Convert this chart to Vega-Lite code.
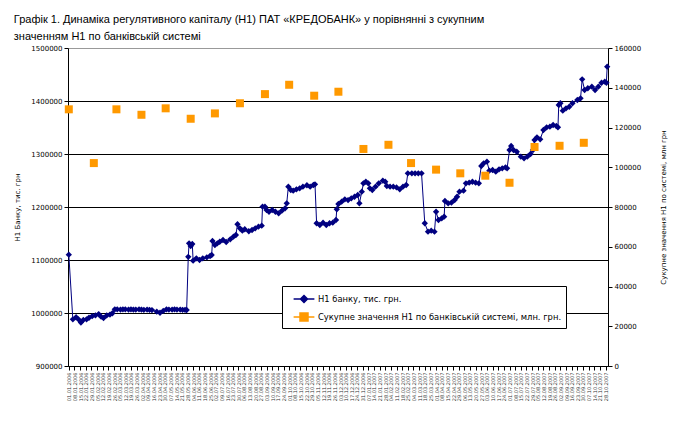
{
  "$schema": "https://vega.github.io/schema/vega-lite/v6.json",
  "width": 540,
  "height": 318,
  "autosize": {"type": "none"},
  "padding": {"left": 68, "top": 48, "right": 72, "bottom": 69},
  "background": "white",
  "title": {
    "text": ["Графік 1. Динаміка регулятивного капіталу (Н1) ПАТ «КРЕДОБАНК»  у порівнянні з сукупним", "значенням Н1 по банківській системі"],
    "anchor": "start",
    "frame": "bounds",
    "font": "Liberation Sans",
    "fontSize": 11,
    "fontWeight": "normal",
    "color": "black",
    "lineHeight": 17,
    "offset": 2
  },
  "config": {
    "view": {"stroke": null},
    "axis": {"labelFont": "DejaVu Sans", "labelColor": "black", "titleFont": "DejaVu Sans", "titleColor": "black", "titleFontWeight": "normal", "domainColor": "black", "tickColor": "black"}
  },
  "datasets": {
    "bank": [
      {"date": "2006-01-01", "value": 1110000},
      {"date": "2006-01-06", "value": 988000},
      {"date": "2006-01-10", "value": 992000},
      {"date": "2006-01-13", "value": 988000},
      {"date": "2006-01-16", "value": 982000},
      {"date": "2006-01-19", "value": 987000},
      {"date": "2006-01-23", "value": 988000},
      {"date": "2006-01-26", "value": 991000},
      {"date": "2006-01-30", "value": 994000},
      {"date": "2006-02-03", "value": 995500},
      {"date": "2006-02-07", "value": 998000},
      {"date": "2006-02-10", "value": 993000},
      {"date": "2006-02-13", "value": 990500},
      {"date": "2006-02-17", "value": 995500},
      {"date": "2006-02-21", "value": 997000},
      {"date": "2006-02-24", "value": 999500},
      {"date": "2006-02-27", "value": 1007000},
      {"date": "2006-03-02", "value": 1007000},
      {"date": "2006-03-06", "value": 1006500},
      {"date": "2006-03-09", "value": 1007000},
      {"date": "2006-03-12", "value": 1007000},
      {"date": "2006-03-16", "value": 1006500},
      {"date": "2006-03-19", "value": 1007000},
      {"date": "2006-03-22", "value": 1006500},
      {"date": "2006-03-25", "value": 1006500},
      {"date": "2006-03-29", "value": 1007000},
      {"date": "2006-04-01", "value": 1006500},
      {"date": "2006-04-04", "value": 1006000},
      {"date": "2006-04-08", "value": 1006500},
      {"date": "2006-04-11", "value": 1006000},
      {"date": "2006-04-14", "value": 1005500},
      {"date": "2006-04-20", "value": 1002500},
      {"date": "2006-04-24", "value": 1000500},
      {"date": "2006-04-28", "value": 1004000},
      {"date": "2006-05-02", "value": 1007000},
      {"date": "2006-05-05", "value": 1006500},
      {"date": "2006-05-09", "value": 1006500},
      {"date": "2006-05-12", "value": 1007000},
      {"date": "2006-05-15", "value": 1006500},
      {"date": "2006-05-19", "value": 1006500},
      {"date": "2006-05-22", "value": 1006000},
      {"date": "2006-05-25", "value": 1006000},
      {"date": "2006-05-27", "value": 1005700},
      {"date": "2006-05-29", "value": 1106000},
      {"date": "2006-05-30", "value": 1131500},
      {"date": "2006-06-01", "value": 1126400},
      {"date": "2006-06-03", "value": 1130200},
      {"date": "2006-06-04", "value": 1098700},
      {"date": "2006-06-08", "value": 1103200},
      {"date": "2006-06-12", "value": 1100000},
      {"date": "2006-06-16", "value": 1103200},
      {"date": "2006-06-21", "value": 1105100},
      {"date": "2006-06-25", "value": 1107500},
      {"date": "2006-06-27", "value": 1109400},
      {"date": "2006-06-28", "value": 1135900},
      {"date": "2006-07-01", "value": 1128300},
      {"date": "2006-07-04", "value": 1131500},
      {"date": "2006-07-07", "value": 1134500},
      {"date": "2006-07-11", "value": 1137700},
      {"date": "2006-07-15", "value": 1134000},
      {"date": "2006-07-20", "value": 1139000},
      {"date": "2006-07-24", "value": 1144000},
      {"date": "2006-07-27", "value": 1147200},
      {"date": "2006-07-29", "value": 1167400},
      {"date": "2006-08-01", "value": 1159800},
      {"date": "2006-08-04", "value": 1155300},
      {"date": "2006-08-07", "value": 1158000},
      {"date": "2006-08-12", "value": 1154200},
      {"date": "2006-08-16", "value": 1156600},
      {"date": "2006-08-20", "value": 1159800},
      {"date": "2006-08-24", "value": 1162900},
      {"date": "2006-08-28", "value": 1164700},
      {"date": "2006-08-29", "value": 1200600},
      {"date": "2006-09-01", "value": 1200600},
      {"date": "2006-09-03", "value": 1194300},
      {"date": "2006-09-06", "value": 1191100},
      {"date": "2006-09-10", "value": 1194300},
      {"date": "2006-09-14", "value": 1191100},
      {"date": "2006-09-18", "value": 1188100},
      {"date": "2006-09-22", "value": 1193000},
      {"date": "2006-09-26", "value": 1197500},
      {"date": "2006-09-28", "value": 1207000},
      {"date": "2006-09-30", "value": 1238300},
      {"date": "2006-10-03", "value": 1232100},
      {"date": "2006-10-06", "value": 1230800},
      {"date": "2006-10-10", "value": 1233400},
      {"date": "2006-10-14", "value": 1235300},
      {"date": "2006-10-18", "value": 1238300},
      {"date": "2006-10-23", "value": 1241000},
      {"date": "2006-10-27", "value": 1238300},
      {"date": "2006-10-31", "value": 1241500},
      {"date": "2006-11-02", "value": 1242800},
      {"date": "2006-11-04", "value": 1169300},
      {"date": "2006-11-08", "value": 1166000},
      {"date": "2006-11-12", "value": 1170400},
      {"date": "2006-11-16", "value": 1166000},
      {"date": "2006-11-20", "value": 1169300},
      {"date": "2006-11-24", "value": 1170400},
      {"date": "2006-11-28", "value": 1175500},
      {"date": "2006-11-29", "value": 1195700},
      {"date": "2006-12-01", "value": 1205700},
      {"date": "2006-12-05", "value": 1210000},
      {"date": "2006-12-09", "value": 1214500},
      {"date": "2006-12-13", "value": 1213000},
      {"date": "2006-12-17", "value": 1216400},
      {"date": "2006-12-21", "value": 1219400},
      {"date": "2006-12-25", "value": 1222700},
      {"date": "2006-12-27", "value": 1207000},
      {"date": "2006-12-30", "value": 1228900},
      {"date": "2007-01-01", "value": 1244700},
      {"date": "2007-01-04", "value": 1247700},
      {"date": "2007-01-07", "value": 1244700},
      {"date": "2007-01-09", "value": 1235300},
      {"date": "2007-01-12", "value": 1232100},
      {"date": "2007-01-16", "value": 1238300},
      {"date": "2007-01-20", "value": 1244700},
      {"date": "2007-01-25", "value": 1249600},
      {"date": "2007-01-28", "value": 1247700},
      {"date": "2007-01-30", "value": 1239600},
      {"date": "2007-02-03", "value": 1238300},
      {"date": "2007-02-07", "value": 1238300},
      {"date": "2007-02-11", "value": 1237000},
      {"date": "2007-02-15", "value": 1233400},
      {"date": "2007-02-19", "value": 1238300},
      {"date": "2007-02-23", "value": 1241500},
      {"date": "2007-02-25", "value": 1263600},
      {"date": "2007-03-02", "value": 1263600},
      {"date": "2007-03-06", "value": 1263600},
      {"date": "2007-03-10", "value": 1263600},
      {"date": "2007-03-14", "value": 1263600},
      {"date": "2007-03-18", "value": 1169300},
      {"date": "2007-03-22", "value": 1153400},
      {"date": "2007-03-26", "value": 1155300},
      {"date": "2007-03-30", "value": 1153400},
      {"date": "2007-04-01", "value": 1191100},
      {"date": "2007-04-04", "value": 1175500},
      {"date": "2007-04-08", "value": 1178700},
      {"date": "2007-04-11", "value": 1181700},
      {"date": "2007-04-12", "value": 1211300},
      {"date": "2007-04-16", "value": 1207000},
      {"date": "2007-04-20", "value": 1208100},
      {"date": "2007-04-24", "value": 1213200},
      {"date": "2007-04-27", "value": 1219400},
      {"date": "2007-04-30", "value": 1228900},
      {"date": "2007-05-05", "value": 1230800},
      {"date": "2007-05-08", "value": 1244700},
      {"date": "2007-05-12", "value": 1245900},
      {"date": "2007-05-16", "value": 1247700},
      {"date": "2007-05-20", "value": 1245900},
      {"date": "2007-05-24", "value": 1244700},
      {"date": "2007-05-27", "value": 1277400},
      {"date": "2007-05-30", "value": 1282400},
      {"date": "2007-06-03", "value": 1285500},
      {"date": "2007-06-06", "value": 1268500},
      {"date": "2007-06-10", "value": 1269800},
      {"date": "2007-06-14", "value": 1266600},
      {"date": "2007-06-18", "value": 1271000},
      {"date": "2007-06-22", "value": 1273000},
      {"date": "2007-06-26", "value": 1274900},
      {"date": "2007-06-28", "value": 1273000},
      {"date": "2007-07-01", "value": 1307500},
      {"date": "2007-07-03", "value": 1315100},
      {"date": "2007-07-06", "value": 1307500},
      {"date": "2007-07-10", "value": 1304300},
      {"date": "2007-07-15", "value": 1294900},
      {"date": "2007-07-19", "value": 1291800},
      {"date": "2007-07-23", "value": 1294900},
      {"date": "2007-07-27", "value": 1300000},
      {"date": "2007-07-30", "value": 1307500},
      {"date": "2007-08-01", "value": 1326400},
      {"date": "2007-08-04", "value": 1331500},
      {"date": "2007-08-08", "value": 1327600},
      {"date": "2007-08-12", "value": 1345300},
      {"date": "2007-08-16", "value": 1350400},
      {"date": "2007-08-20", "value": 1351500},
      {"date": "2007-08-24", "value": 1354700},
      {"date": "2007-08-28", "value": 1352800},
      {"date": "2007-08-30", "value": 1350400},
      {"date": "2007-08-31", "value": 1392500},
      {"date": "2007-09-02", "value": 1395700},
      {"date": "2007-09-05", "value": 1381700},
      {"date": "2007-09-09", "value": 1386200},
      {"date": "2007-09-13", "value": 1389200},
      {"date": "2007-09-17", "value": 1395700},
      {"date": "2007-09-23", "value": 1401900},
      {"date": "2007-09-27", "value": 1405100},
      {"date": "2007-09-29", "value": 1440900},
      {"date": "2007-10-02", "value": 1420800},
      {"date": "2007-10-06", "value": 1424000},
      {"date": "2007-10-11", "value": 1427000},
      {"date": "2007-10-15", "value": 1420800},
      {"date": "2007-10-19", "value": 1427000},
      {"date": "2007-10-23", "value": 1434500},
      {"date": "2007-10-27", "value": 1436400},
      {"date": "2007-10-29", "value": 1434500},
      {"date": "2007-10-30", "value": 1464700}
    ],
    "system": [
      {"date": "2006-01-01", "value": 129150},
      {"date": "2006-02-01", "value": 102100},
      {"date": "2006-03-01", "value": 129150},
      {"date": "2006-04-01", "value": 126400},
      {"date": "2006-05-01", "value": 129650},
      {"date": "2006-06-01", "value": 124400},
      {"date": "2006-07-01", "value": 127100},
      {"date": "2006-08-01", "value": 132200},
      {"date": "2006-09-01", "value": 136800},
      {"date": "2006-10-01", "value": 141500},
      {"date": "2006-11-01", "value": 136000},
      {"date": "2006-12-01", "value": 138000},
      {"date": "2007-01-01", "value": 109200},
      {"date": "2007-02-01", "value": 111300},
      {"date": "2007-03-01", "value": 102100},
      {"date": "2007-04-01", "value": 98800},
      {"date": "2007-05-01", "value": 96950},
      {"date": "2007-06-01", "value": 95750},
      {"date": "2007-07-01", "value": 92200},
      {"date": "2007-08-01", "value": 110200},
      {"date": "2007-09-01", "value": 110800},
      {"date": "2007-10-01", "value": 112300}
    ]
  },
  "encoding": {
    "x": {
      "field": "date",
      "type": "temporal",
      "scale": {"type": "utc", "domain": [{"year": 2005, "month": 12, "date": 31, "utc": true}, {"year": 2007, "month": 10, "date": 31, "utc": true}], "nice": false},
      "axis": {
        "title": null,
        "format": "%d.%m.%Y",
        "tickCount": {"interval": "week", "step": 1},
        "labelAngle": 270,
        "labelFontSize": 5,
        "labelOverlap": false,
        "labelBound": false,
        "labelFlush": false,
        "labelPadding": 2,
        "labelColor": "#333333",
        "tickSize": 4,
        "grid": false
      }
    }
  },
  "layer": [
    {
      "data": {"name": "bank"},
      "mark": {"type": "line", "strokeWidth": 1, "point": {"filled": true, "shape": "diamond", "size": 40}},
      "encoding": {
        "y": {
          "field": "value",
          "type": "quantitative",
          "scale": {"domain": [900000, 1500000], "nice": false, "zero": false},
          "axis": {
            "orient": "left",
            "values": [900000, 1000000, 1100000, 1200000, 1300000, 1400000, 1500000],
            "format": "d",
            "labelFontSize": 7,
            "labelPadding": 2,
            "tickSize": 4,
            "grid": true,
            "gridColor": {"condition": {"test": "datum.value >= 1500000", "value": "#999999"}, "value": "#000000"},
            "gridWidth": 1,
            "title": "Н1 Банку, тис. грн",
            "titleFontSize": 7,
            "titlePadding": 10
          }
        },
        "color": {
          "datum": "Н1 банку, тис. грн.",
          "scale": {"domain": ["Н1 банку, тис. грн.", "Сукупне значення Н1 по банківській системі, млн. грн."], "range": ["#000080", "#FF9900"]},
          "legend": {
            "title": null,
            "orient": "none",
            "legendX": 214,
            "legendY": 238,
            "direction": "vertical",
            "fillColor": "white",
            "strokeColor": "black",
            "padding": 4,
            "rowPadding": 2,
            "symbolSize": 256,
            "symbolOffset": 9,
            "labelFont": "DejaVu Sans",
            "labelFontSize": 8.4,
            "labelColor": "black",
            "labelOffset": 5,
            "labelLimit": 400,
            "encode": {
              "symbols": {
                "update": {
                  "shape": {"signal": "datum.value === 'Н1 банку, тис. грн.' ? 'M-1.3,0H1.3M0,-0.44L0.44,0L0,0.44L-0.44,0Z' : 'M-1.3,0H1.3M-0.5,-0.5H0.5V0.5H-0.5Z'"},
                  "fill": {"signal": "datum.value === 'Н1 банку, тис. грн.' ? '#000080' : '#FF9900'"},
                  "stroke": {"signal": "datum.value === 'Н1 банку, тис. грн.' ? '#000080' : '#FFC266'"},
                  "strokeWidth": {"value": 1.5},
                  "size": {"value": 256},
                  "opacity": {"value": 1},
                  "fillOpacity": {"value": 1},
                  "strokeOpacity": {"value": 1}
                }
              }
            }
          }
        }
      }
    },
    {
      "data": {"name": "system"},
      "mark": {"type": "point", "shape": "square", "filled": true, "size": 64, "opacity": 1},
      "encoding": {
        "y": {
          "field": "value",
          "type": "quantitative",
          "scale": {"domain": [0, 160000], "nice": false},
          "axis": {
            "orient": "right",
            "values": [0, 20000, 40000, 60000, 80000, 100000, 120000, 140000, 160000],
            "format": "d",
            "labelFontSize": 7,
            "labelPadding": 2,
            "tickSize": 4,
            "grid": false,
            "title": "Сукупне  значення Н1 по системі, млн грн",
            "titleAngle": 270,
            "titleFontSize": 7,
            "titlePadding": 26
          }
        },
        "color": {"datum": "Сукупне значення Н1 по банківській системі, млн. грн."}
      }
    }
  ],
  "resolve": {"scale": {"y": "independent"}}
}
